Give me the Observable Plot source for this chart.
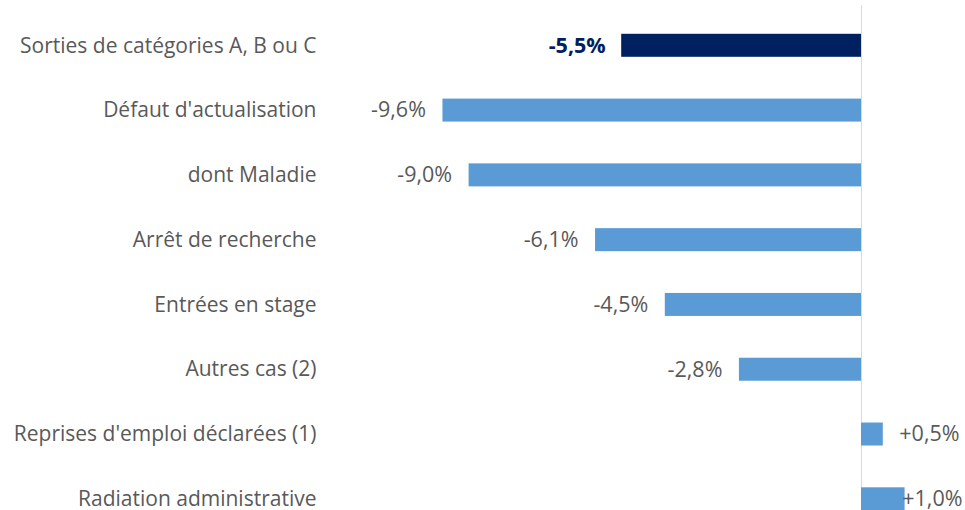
<!DOCTYPE html>
<html>
<head>
<meta charset="utf-8">
<script src="https://cdn.jsdelivr.net/npm/d3@7"></script>
<script src="https://cdn.jsdelivr.net/npm/@observablehq/plot@0.6"></script>
<style>
  html, body { margin: 0; padding: 0; background: #fff; }
  #chart svg { display: block; }
</style>
</head>
<body>
<div id="chart"></div>
<script>
const categories = [
  "Sorties de catégories A, B ou C",
  "Défaut d'actualisation",
  "dont Maladie",
  "Arrêt de recherche",
  "Entrées en stage",
  "Autres cas (2)",
  "Reprises d'emploi déclarées (1)",
  "Radiation administrative"
];
const values = [-5.5, -9.6, -9.0, -6.1, -4.5, -2.8, 0.5, 1.0];
const isTotal = [true, false, false, false, false, false, false, false];
const labels = ["-5,5%", "-9,6%", "-9,0%", "-6,1%", "-4,5%", "-2,8%", "+0,5%", "+1,0%"];

const data = categories.map((c, i) => ({category: c, value: values[i], total: isTotal[i], label: labels[i]}));

const NAVY = "#002060", BLUE = "#5B9BD5", GREY = "#595959";
const font = "'Open Sans', sans-serif";
const FS = 21;
const VFS = 21.5;

const chart = Plot.plot({
  width: 965,
  height: 510,
  marginLeft: 318,
  marginRight: 3,
  marginTop: 5,
  marginBottom: 0,
  style: {fontFamily: font, fontSize: FS + "px", color: GREY, background: "#fff"},
  x: {domain: [-10, 2], range: [425, 948.2], axis: null},
  y: {domain: categories, range: [12.9, 531.2], paddingInner: 0.645, paddingOuter: 0.3225, align: 0.5, round: false, label: null},
  marks: [
    Plot.axisY({tickSize: 0, tickPadding: 2, fontSize: FS, fill: GREY}),
    Plot.ruleX([0], {stroke: "#d9d9d9", strokeWidth: 1}),
    Plot.barX(data, {x: "value", y: "category", fill: d => d.total ? NAVY : BLUE}),
    Plot.text(data.filter(d => d.value < 0 && d.total), {
      x: "value", y: "category", text: "label", textAnchor: "end", dx: -16,
      fill: NAVY, fontWeight: "bold", fontSize: VFS
    }),
    Plot.text(data.filter(d => d.value < 0 && !d.total), {
      x: "value", y: "category", text: "label", textAnchor: "end", dx: -17,
      fill: GREY, fontSize: VFS
    }),
    Plot.text(data.filter(d => d.value > 0 && d.value < 1), {
      x: "value", y: "category", text: "label", textAnchor: "start", dx: 16, fill: GREY, fontSize: VFS
    }),
    Plot.text(data.filter(d => d.value >= 1), {
      y: "category", text: "label", frameAnchor: "right", textAnchor: "end", fill: GREY, fontSize: VFS
    })
  ]
});
document.getElementById("chart").append(chart);
</script>
</body>
</html>
